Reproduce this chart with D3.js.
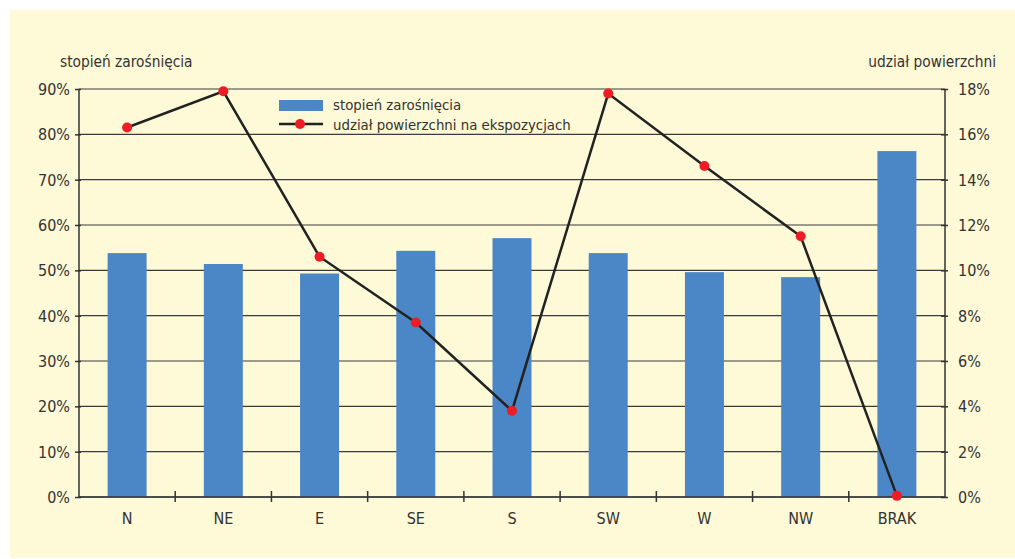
<!DOCTYPE html>
<html><head><meta charset="utf-8">
<script src="https://cdn.jsdelivr.net/npm/d3@7"></script>
<style>
html,body{margin:0;padding:0;background:#fff;}
svg text{font-family:"Liberation Sans Narrow","DejaVu Sans Condensed","Roboto",sans-serif;fill:#333;}
</style></head>
<body><svg id="c" width="1015" height="559"></svg>
<script>
const categories = ["N","NE","E","SE","S","SW","W","NW","BRAK"];
const overgrowth = [53.8,51.4,49.3,54.3,57.1,53.8,49.6,48.5,76.3];   // stopień zarośnięcia (%)
const areaShare  = [16.3,17.9,10.6,7.7,3.8,17.8,14.6,11.5,0.05];    // udział powierzchni (%)
const leftTicks  = [0,10,20,30,40,50,60,70,80,90];
const rightTicks = [0,2,4,6,8,10,12,14,16,18];
const leftTitle  = "stopień zarośnięcia";
const rightTitle = "udział powierzchni";
const legendLabels = ["stopień zarośnięcia","udział powierzchni na ekspozycjach"];

const svg = d3.select("#c");
const L = 79, R = 945, T = 89, B = 497;
svg.append("rect").attr("x",10).attr("y",10).attr("width",1005).attr("height",548).attr("fill","#fef9d6");

const x = d3.scaleBand().domain(categories).range([L,R]).paddingInner(0.595).paddingOuter(0.2975);
const xs = d3.scaleBand().domain(categories).range([L,R]).padding(0);
const yL = d3.scaleLinear().domain([0,90]).range([B,T]);
const yR = d3.scaleLinear().domain([0,18]).range([B,T]);

// gridlines
svg.append("g").selectAll("line").data(leftTicks).join("line")
  .attr("x1",L).attr("x2",R).attr("y1",d=>yL(d)).attr("y2",d=>yL(d))
  .attr("stroke","#3c3c3c").attr("stroke-width",1.2);

// bars
svg.append("g").selectAll("rect").data(overgrowth).join("rect")
  .attr("x",(d,i)=>x(categories[i])).attr("width",x.bandwidth())
  .attr("y",d=>yL(d)).attr("height",d=>B-yL(d)).attr("fill","#4b86c6");

// left axis
const gl = svg.append("g").attr("transform",`translate(${L},0)`)
  .call(d3.axisLeft(yL).tickValues(leftTicks).tickSize(4).tickPadding(5).tickFormat(d=>d+"%"));
gl.select(".domain").attr("stroke","#333").attr("stroke-width",1.5).attr("d",`M0,${T}V${B}`);
gl.selectAll(".tick line").attr("stroke","#333").attr("stroke-width",1.5).attr("x2",-4).attr("x1",2);
gl.selectAll("text").attr("font-size",16).attr("dy","0.34em").style("font-family",null);

// right axis
const gr = svg.append("g").attr("transform",`translate(${R},0)`)
  .call(d3.axisRight(yR).tickValues(rightTicks).tickSize(4).tickPadding(9).tickFormat(d=>d+"%"));
gr.select(".domain").attr("stroke","#333").attr("stroke-width",1.5).attr("d",`M0,${T}V${B}`);
gr.selectAll(".tick line").attr("stroke","#333").attr("stroke-width",1.5).attr("x1",-4).attr("x2",3);
gr.selectAll("text").attr("font-size",16).attr("dy","0.34em");

// bottom axis
svg.append("line").attr("x1",L).attr("x2",R).attr("y1",B).attr("y2",B).attr("stroke","#333").attr("stroke-width",1.5);
svg.append("g").selectAll("line").data(categories.slice(1)).join("line")
  .attr("x1",d=>xs(d)).attr("x2",d=>xs(d)).attr("y1",B-6).attr("y2",B+5)
  .attr("stroke","#333").attr("stroke-width",1.5);
svg.append("g").selectAll("text").data(categories).join("text")
  .attr("x",d=>xs(d)+xs.bandwidth()/2).attr("y",B+27).attr("text-anchor","middle")
  .attr("font-size",16).text(d=>d);

// line series
const line = d3.line().x((d,i)=>xs(categories[i])+xs.bandwidth()/2).y(d=>yR(d));
svg.append("path").datum(areaShare).attr("d",line).attr("fill","none")
  .attr("stroke","#222").attr("stroke-width",2.5);
svg.append("g").selectAll("circle").data(areaShare).join("circle")
  .attr("cx",(d,i)=>xs(categories[i])+xs.bandwidth()/2).attr("cy",d=>yR(d)).attr("r",5)
  .attr("fill","#ee1c24");

// titles
svg.append("text").attr("x",60).attr("y",67).attr("font-size",15.3).text(leftTitle);
svg.append("text").attr("x",996).attr("y",67).attr("font-size",15.3).attr("text-anchor","end").text(rightTitle);

// legend
const lg = svg.append("g");
lg.append("rect").attr("x",279).attr("y",100).attr("width",44).attr("height",11).attr("fill","#4b86c6");
lg.append("line").attr("x1",279).attr("x2",323).attr("y1",124).attr("y2",124).attr("stroke","#222").attr("stroke-width",2.5);
lg.append("circle").attr("cx",300).attr("cy",124).attr("r",5).attr("fill","#ee1c24");
lg.append("text").attr("x",333).attr("y",110).attr("font-size",14.8).text(legendLabels[0]);
lg.append("text").attr("x",333).attr("y",130).attr("font-size",14.8).text(legendLabels[1]);
</script></body></html>
